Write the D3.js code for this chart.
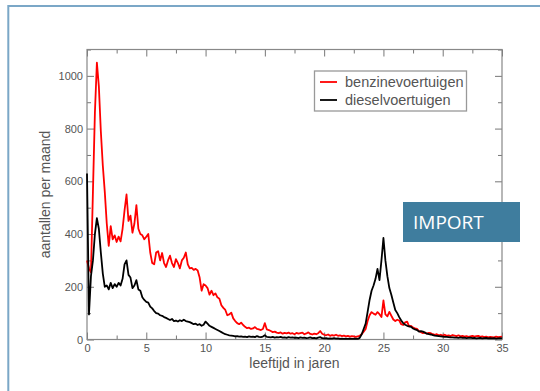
<!DOCTYPE html>
<html>
<head>
<meta charset="utf-8">
<script src="https://cdn.jsdelivr.net/npm/d3@7"></script>
<style>
  html, body { margin: 0; padding: 0; background: #fff; }
  svg { display: block; font-family: "Liberation Sans", Arial, sans-serif; }
</style>
</head>
<body>
<div class="line-canvas"></div>
<script>
// one value every two months, age 0 .. 35 years
const stepYears = 1 / 6;

const benzine = [
  300, 270, 255, 560, 860, 1050, 960, 790, 660, 560, 440, 355,
  430, 380, 395, 370, 390, 372, 420, 490, 550, 450, 470, 405,
  440, 510, 420, 400, 395, 380, 390, 400, 330, 290, 285, 330,
  335, 300, 328, 290, 275, 300, 318, 290, 275, 305, 290, 270,
  300, 310, 330, 285, 270, 272, 264, 268, 262, 235, 185, 210,
  205, 195, 170, 185, 168, 175, 160, 155, 130, 120, 112, 92,
  95, 102, 80, 70, 62, 58, 64, 55, 48, 43, 45, 40,
  42, 47, 40, 38, 36, 40, 62, 38, 36, 32, 28, 30,
  26, 24, 27, 22, 25, 23, 26, 22, 24, 20, 25, 22,
  24, 26, 20, 23, 27, 21, 19, 22, 20, 24, 32, 22,
  18, 16, 19, 14, 17, 15, 18, 14, 16, 13, 15, 12,
  14, 11, 13, 12, 10, 12, 14, 20, 30, 40, 70, 92,
  104, 98, 94, 104, 96, 85, 148, 95, 88, 105, 90, 76,
  70, 75, 72, 58, 55, 65, 68, 50, 52, 45, 42, 40,
  32, 28, 24, 26, 22, 25, 24, 20, 18, 20, 16, 18,
  15, 18, 14, 16, 13, 17, 15, 13, 16, 12, 14, 11,
  13, 10, 12, 14, 11, 13, 14, 10, 12, 9, 11, 8,
  10, 9, 8, 11, 9, 10, 11
];

const diesel = [
  630, 95, 240, 300, 400, 460, 420, 330, 250, 200, 205, 190,
  215, 195, 210, 200, 215, 205, 230, 285, 300, 245, 235, 195,
  205, 225, 190, 185, 160, 150, 143, 140, 125, 118, 108, 100,
  98, 92, 90, 85, 82, 78, 74, 78, 70, 72, 68, 73,
  70, 75, 70, 68, 66, 62, 58, 60, 55, 58, 52, 56,
  68, 60, 52, 48, 44, 40, 36, 32, 28, 24, 20, 18,
  16, 15, 14, 12, 13, 11, 12, 10, 11, 9, 12, 10,
  11, 9, 13, 10, 9, 11, 16, 10, 9, 8, 10, 7,
  9, 8, 10, 7, 8, 6, 9, 7, 8, 6, 7, 5,
  8, 6, 7, 5, 6, 8, 5, 6, 4, 7, 9, 5,
  4, 5, 3, 4, 3, 5, 3, 4, 2, 3, 2, 3,
  2, 3, 2, 2, 3, 2, 6, 20, 40, 60, 105, 150,
  185, 205, 230, 268, 225, 300, 385, 300, 240, 195, 170, 140,
  112, 100, 85, 72, 62, 56, 52, 50, 48, 42, 38, 36,
  30, 32, 30, 26, 22, 20, 19, 17, 15, 14, 13, 12,
  11, 10, 10, 9, 8, 8, 7, 7, 6, 8, 6, 7,
  5, 6, 7, 5, 6, 4, 5, 6, 4, 5, 6, 4,
  5, 4, 5, 3, 4, 5, 4
];

const seriesNames = ["benzinevoertuigen", "dieselvoertuigen"];
const seriesColors = ["#ff0000", "#000000"];
const xMajorTicks = [0, 5, 10, 15, 20, 25, 30, 35];
const xMinorTicks = [2.5, 7.5, 12.5, 17.5, 22.5, 27.5, 32.5];
const yMajorTicks = [0, 200, 400, 600, 800, 1000];
const yMinorTicks = [100, 300, 500, 700, 900, 1100];
const xTitle = "leeftijd in jaren";
const yTitle = "aantallen per maand";
const badgeText = "IMPORT";

let width = 540;
let height = 391;
let plot = { left: 87, right: 502, top: 49.5, bottom: 339.5 };

let svg = d3.select(".line-canvas")
  .append("svg")
  .attr("width", width)
  .attr("height", height)
  .attr("viewBox", [0, 0, width, height]);

// light blue outer frame (runs off the right and bottom edge)
svg.append("rect")
  .attr("x", 8.3).attr("y", 6)
  .attr("width", 600).attr("height", 500)
  .attr("fill", "none")
  .attr("stroke", "#7ba7c7")
  .attr("stroke-width", 2);

let x = d3.scaleLinear()
  .domain([0, 35])
  .range([plot.left, plot.right]);

let y = d3.scaleLinear()
  .domain([0, 1100])
  .range([plot.bottom, plot.top]);

let tickColor = "#777";
let labelColor = "#555";

function styleAxis(g) {
  g.select(".domain").remove();
  g.selectAll(".tick line").attr("stroke", tickColor);
  g.selectAll(".tick text")
    .attr("fill", labelColor)
    .attr("font-size", 11)
    .attr("font-family", "Liberation Sans, Arial, sans-serif");
}

// bottom
svg.append("g")
  .attr("transform", `translate(0,${plot.bottom})`)
  .call(d3.axisBottom(x).tickValues(xMajorTicks).tickSize(-7).tickPadding(5))
  .call(styleAxis);
svg.append("g")
  .attr("transform", `translate(0,${plot.bottom})`)
  .call(d3.axisBottom(x).tickValues(xMinorTicks).tickSize(-4).tickFormat(""))
  .call(styleAxis);
// top
svg.append("g")
  .attr("transform", `translate(0,${plot.top})`)
  .call(d3.axisTop(x).tickValues(xMajorTicks).tickSize(-7).tickFormat(""))
  .call(styleAxis);
svg.append("g")
  .attr("transform", `translate(0,${plot.top})`)
  .call(d3.axisTop(x).tickValues(xMinorTicks).tickSize(-4).tickFormat(""))
  .call(styleAxis);
// left
svg.append("g")
  .attr("transform", `translate(${plot.left},0)`)
  .call(d3.axisLeft(y).tickValues(yMajorTicks).tickSize(-7).tickPadding(4)
    .tickFormat(d3.format("d")))
  .call(styleAxis);
svg.append("g")
  .attr("transform", `translate(${plot.left},0)`)
  .call(d3.axisLeft(y).tickValues(yMinorTicks).tickSize(-4).tickFormat(""))
  .call(styleAxis);
// right
svg.append("g")
  .attr("transform", `translate(${plot.right},0)`)
  .call(d3.axisRight(y).tickValues(yMajorTicks).tickSize(-7).tickFormat(""))
  .call(styleAxis);
svg.append("g")
  .attr("transform", `translate(${plot.right},0)`)
  .call(d3.axisRight(y).tickValues(yMinorTicks).tickSize(-4).tickFormat(""))
  .call(styleAxis);

// plot frame
svg.append("rect")
  .attr("x", plot.left).attr("y", plot.top)
  .attr("width", plot.right - plot.left)
  .attr("height", plot.bottom - plot.top)
  .attr("fill", "none")
  .attr("stroke", "#888")
  .attr("stroke-width", 1.2);

let line = d3.line()
  .x((d, i) => x(i * stepYears))
  .y(d => y(d));

svg.append("g")
  .attr("fill", "none")
  .attr("stroke-width", 1.8)
  .attr("stroke-linejoin", "round")
  .selectAll("path")
  .data([benzine, diesel])
  .join("path")
  .attr("stroke", (d, i) => seriesColors[i])
  .attr("d", d => line(d));

// axis titles
svg.append("text")
  .attr("x", (plot.left + plot.right) / 2)
  .attr("y", 368)
  .attr("text-anchor", "middle")
  .attr("font-size", 14)
  .attr("fill", labelColor)
  .text(xTitle);

svg.append("text")
  .attr("transform", `translate(50,${(plot.top + plot.bottom) / 2}) rotate(-90)`)
  .attr("text-anchor", "middle")
  .attr("font-size", 14)
  .attr("fill", labelColor)
  .text(yTitle);

// legend
let legend = svg.append("g");
legend.append("rect")
  .attr("x", 314.5).attr("y", 71)
  .attr("width", 152).attr("height", 40)
  .attr("fill", "#fff")
  .attr("stroke", "#999")
  .attr("stroke-width", 1.3);

seriesNames.forEach((name, i) => {
  let cy = 82 + i * 18;
  legend.append("line")
    .attr("x1", 320).attr("x2", 337)
    .attr("y1", cy).attr("y2", cy)
    .attr("stroke", seriesColors[i])
    .attr("stroke-width", 1.8);
  legend.append("text")
    .attr("x", 345).attr("y", cy + 4.5)
    .attr("font-size", 14.5)
    .attr("fill", labelColor)
    .text(name);
});

// IMPORT badge
svg.append("rect")
  .attr("x", 403).attr("y", 202)
  .attr("width", 117).attr("height", 40)
  .attr("fill", "#3f7d9e");
svg.append("text")
  .attr("x", 413).attr("y", 228.5)
  .attr("font-family", "Open Sans, sans-serif")
  .attr("font-size", 19)
  .attr("fill", "#fff")
  .text(badgeText);
</script>
</body>
</html>
